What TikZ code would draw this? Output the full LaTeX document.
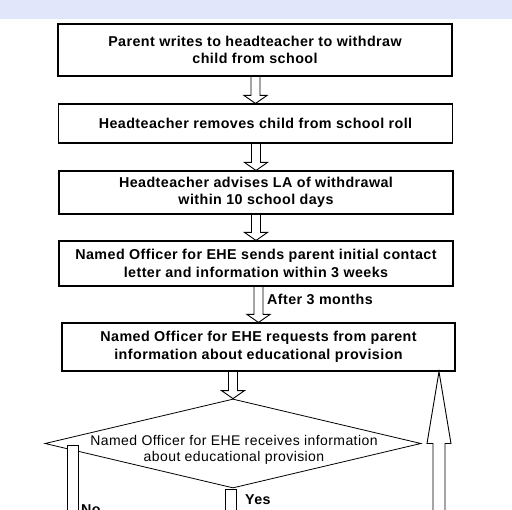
\documentclass[tikz,border=0pt]{standalone}
\usepackage{fontspec}
\setmainfont{Liberation Sans}[LetterSpace=3]
\usetikzlibrary{shapes.geometric, calc}

\definecolor{bandblue}{RGB}{225,230,250}
\newcommand{\boxfont}{\fontsize{14.3}{17.5}\selectfont\bfseries}
\newcommand{\diafont}{\fontsize{14}{16}\selectfont}
% hollow block arrow pointing down, from #1 to the tip #2
\newcommand{\hollowdown}[2]{%
  \draw[blockarrow] ($(#2 |- #1)+(-4.5,0)$) -- ($(#2 |- #1)+(4.5,0)$) -- ($(#2)+(4.5,-8)$) -- ($(#2)+(11.5,-8)$) -- (#2) -- ($(#2)+(-11.5,-8)$) -- ($(#2)+(-4.5,-8)$) -- cycle;}

\begin{document}
\begin{tikzpicture}[x=1pt, y=-1pt,
    stepbox/.style={draw, line width=1.1pt, minimum width=394pt, align=center, font=\boxfont},
    decision/.style={draw, diamond, line width=0.8pt, minimum width=376pt, minimum height=89pt, aspect=4.2, inner sep=-15pt},
    blockarrow/.style={draw, fill=white, line width=0.9pt, line join=miter},
    lbl/.style={font=\boxfont, inner sep=0pt}]
    \useasboundingbox (0,0) rectangle (512,510);
    \clip (0,0) rectangle (512,510);

    % Header band
    \fill[bandblue] (0,0) rectangle (512,19);

    % Steps
    \node[stepbox, minimum height=52pt] (write) at (255,50) {Parent writes to headteacher to withdraw\\child from school};
    \node[stepbox, minimum height=39pt] (remove) at (255.5,123.5) {Headteacher removes child from school roll};
    \node[stepbox, minimum height=43pt] (advise) at (256,192.5) {Headteacher advises LA of withdrawal\\within 10 school days};
    \node[stepbox, minimum height=45pt] (contact) at (256,263.5) {Named Officer for EHE sends parent initial contact\\letter and information within 3 weeks};
    \node[stepbox, minimum height=48pt, minimum width=393pt] (request) at (258.5,347) {Named Officer for EHE requests from parent\\information about educational provision};

    % Decision
    \node[decision] (receive) at (233,443.5) {};
    \node[font=\diafont, align=center] (receivetext) at (234,450) {Named Officer for EHE receives information\\about educational provision};

    % Arrows between steps
    \hollowdown{write.south}{remove.north}
    \hollowdown{remove.south}{advise.north}
    \hollowdown{advise.south}{contact.north}
    \hollowdown{contact.south}{request.north}
    \hollowdown{request.south}{receive.north}
    \node[lbl, anchor=west] (after) at (267,299) {After 3 months};

    % Return arrow
    \coordinate (loopstart) at (439,530);
    \coordinate (looptip) at (request.south -| loopstart);
    \draw[blockarrow] ($(loopstart)+(-6,0)$) -- ($(looptip)+(-6,72)$) -- ($(looptip)+(-12,72)$) -- (looptip) -- ($(looptip)+(12,72)$) -- ($(looptip)+(6,72)$) -- ($(loopstart)+(6,0)$);

    % Yes / No
    \coordinate (yesend) at (230.5,530);
    \draw[blockarrow] ($(receive.south -| yesend)+(-5.5,1)$) rectangle ($(yesend)+(5.5,0)$);
    \node[lbl, anchor=west] (yes) at (245,500) {Yes};
    \coordinate (noend) at (72.5,530);
    \draw[blockarrow] ($(receive.west -| noend)+(-5.5,1.5)$) rectangle ($(noend)+(5.5,0)$);
    \node[lbl, anchor=north west] (no) at (81,504) {No};
\end{tikzpicture}
\end{document}
